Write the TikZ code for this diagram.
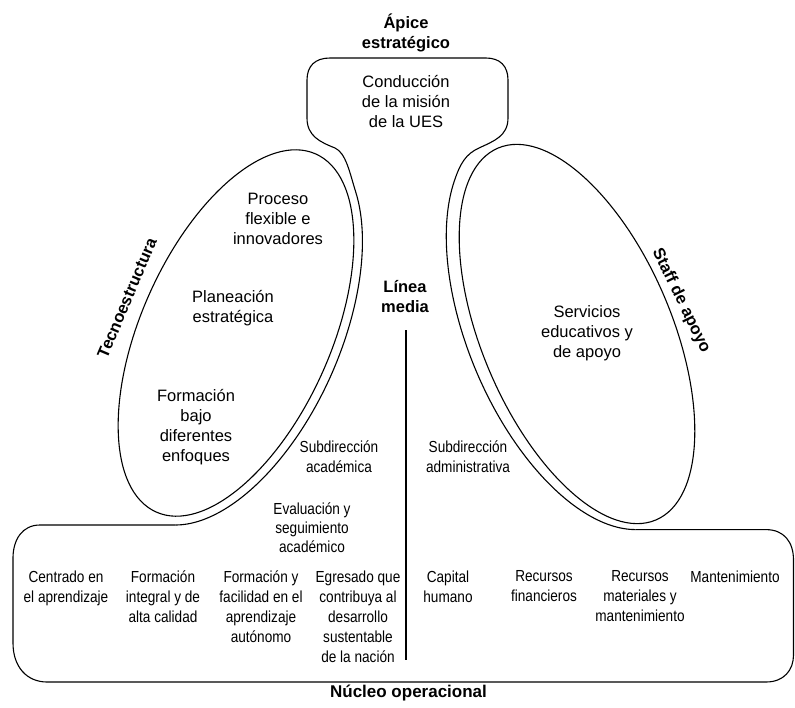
\documentclass[tikz,border=0pt]{standalone}
\usepackage{fontspec}
\setmainfont{Liberation Sans}
\newfontfamily\narrowfont[FakeStretch=0.85]{Liberation Sans}
\begin{document}
\begin{tikzpicture}[x=1pt,y=-1pt,line join=round,
  ln/.style={line width=1.1pt},
  txt/.style={align=center,inner sep=0pt,font=\fontsize{16.5}{20}\selectfont},
  ntxt/.style={align=center,inner sep=0pt,font=\narrowfont\fontsize{16}{20}\selectfont},
  btxt/.style={align=center,inner sep=0pt,font=\bfseries\fontsize{16.5}{20}\selectfont},
  row/.style={ntxt,anchor=north}]
\fill[white] (0,0) rectangle (795,707);
\useasboundingbox (0,0) rectangle (795,707);
% left ellipse (Tecnoestructura) and its outer band line
\begin{scope}[shift={(236,333)},rotate=66]
  \draw[ln] (0,0) ellipse[x radius=196pt,y radius=95pt];
  \draw[ln] (-30:205pt and 104pt) arc[start angle=-30,end angle=-167.3,x radius=205pt,y radius=104pt];
  \coordinate (LA) at (-30:205pt and 104pt);
  \coordinate (LB) at (-167.3:205pt and 104pt);
\end{scope}
% right ellipse (Staff de apoyo) and its outer band line
\begin{scope}[shift={(577,334)},rotate=-67]
  \draw[ln] (0,0) ellipse[x radius=202pt,y radius=95pt];
\end{scope}
\begin{scope}[shift={(575,330)},rotate=-67]
  \draw[ln] (-150:212pt and 107pt) arc[start angle=-150,end angle=-12.1,x radius=212pt,y radius=107pt];
  \coordinate (RA) at (-150:212pt and 107pt);
  \coordinate (RB) at (-12.1:212pt and 107pt);
\end{scope}
% top box with necks
\draw[ln] (LA) .. controls (349.7,172.8) and (346,153) .. (335,148)
  .. controls (320,142) and (307,136) .. (307,118) -- (307,80)
  .. controls (307,66) and (315,58) .. (330,58) -- (486,58)
  .. controls (500,58) and (508,66) .. (508,80) -- (508,118)
  .. controls (508,136) and (494,141) .. (479,148)
  .. controls (466,154) and (460.3,162.9) .. (RA);
% bottom box
\draw[ln] (LB) -- (40,525) .. controls (22,525) and (13,540) .. (13,558) -- (13,643)
  .. controls (13,667) and (27,682) .. (47,682) -- (766,682)
  .. controls (784,682) and (793.5,670) .. (793.5,655) -- (793.5,560)
  .. controls (793.5,542) and (784,529.6) .. (766,529.6) -- (RB);
% middle line
\coordinate (vtop) at (406,330);
\coordinate (vbot) at (406,660);
\draw[line width=1.8pt] (vtop) -- (vbot);
% texts
\node[btxt] (apice) at (406,33) {Ápice\\estratégico};
\node[txt] (cond) at (406,102) {Conducción\\de la misión\\de la UES};
\node[txt] (proc) at (278,219) {Proceso\\flexible e\\innovadores};
\node[txt] (plan) at (233,308) {Planeación\\estratégica};
\node[txt] (formb) at (196,427) {Formación\\bajo\\diferentes\\enfoques};
\node[btxt,rotate=67] (tecno) at (127,298) {Tecnoestructura};
\node[btxt] (linea) at (405,297) {Línea\\media};
\node[ntxt] (subac) at (339,457) {Subdirección\\académica};
\node[ntxt] (subad) at (468,457) {Subdirección\\administrativa};
\node[ntxt,font=\narrowfont\fontsize{16}{19}\selectfont] (eval) at (312,528) {Evaluación y\\seguimiento\\académico};
\node[txt] (serv) at (587,333) {Servicios\\educativos y\\de apoyo};
\node[btxt,rotate=-64] (staff) at (681,301) {Staff de apoyo};
\node[row] (centrado) at (66,570.5) {Centrado en\\el aprendizaje};
\node[row] (integral) at (163,570.5) {Formación\\integral y de\\alta calidad};
\node[row] (facil) at (261,570.5) {Formación y\\facilidad en el\\aprendizaje\\autónomo};
\node[row] (egresado) at (358,570.5) {Egresado que\\contribuya al\\desarrollo\\sustentable\\de la nación};
\node[row] (capital) at (448,570.5) {Capital\\humano};
\node[row] (finan) at (544,570.5) {Recursos\\financieros};
\node[row] (mater) at (640,570.5) {Recursos\\materiales y\\mantenimiento};
\node[row] (mant) at (735,570.5) {Mantenimiento};
\node[btxt,font=\bfseries\fontsize{17}{20}\selectfont] (nucleo) at (408.5,693) {Núcleo operacional};
\end{tikzpicture}
\end{document}
